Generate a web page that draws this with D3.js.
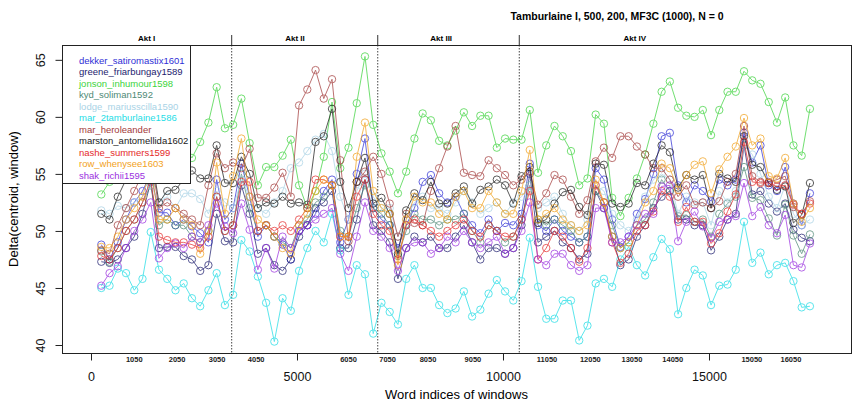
<!DOCTYPE html>
<html>
<head>
<meta charset="utf-8">
<script src="https://cdn.jsdelivr.net/npm/d3@7"></script>
<style>
  body { margin: 0; background: #fff; }
  svg { display: block; font-family: "Liberation Sans", Arial, sans-serif; }
</style>
</head>
<body>
<svg id="chart" width="852" height="412"></svg>
<script>
// window centres: 500-word windows, step 200
const windowStart = 250;
const windowStep = 200;

const seriesNames = [
  "dekker_satiromastix1601", "greene_friarbungay1589", "jonson_inhumour1598",
  "kyd_soliman1592", "lodge_mariusscilla1590", "mar_2tamburlaine1586",
  "mar_heroleander", "marston_antomellida1602", "nashe_summers1599",
  "row_whenysee1603", "shak_richii1595"
];
const seriesColors = [
  "#2f2fd6", "#1c1c6e", "#3cd43c", "#4f8a76", "#a9d3e6", "#1edde6",
  "#a33a3a", "#1a1a1a", "#e52a2a", "#f2a21c", "#9b30e0"
];

const dekker = [48.8,47.5,49.0,51.0,52.5,53.5,55.0,51.6,51.6,50.5, 51.0,50.4,49.8,49.0,54.5,51.0,52.0,55.9,53.0,49.5,
  50.5,49.5,48.8,47.5,50.0,50.5,51.5,53.5,54.5,49.0, 51.0,55.0,58.1,52.0,51.0,50.5,48.5,50.5,52.0,54.3,
  54.9,53.3,52.5,53.0,51.5,50.5,49.8,51.0,50.0,50.7, 50.5,51.5,55.9,50.5,50.0,51.0,50.0,49.5,49.0,49.5,
  55.5,54.5,51.0,48.6,49.5,51.5,52.8,55.0,58.3,58.6, 54.0,52.5,54.0,53.5,52.6,54.5,54.0,54.5,58.6,56.0,
  57.5,54.0,53.5,55.6,52.4,50.5,53.3];
const greene = [47.3,47.2,47.5,48.5,49.5,51.5,54.3,48.5,48.6,48.6, 47.8,47.5,46.5,47.0,51.5,49.1,49.0,54.0,51.5,48.0,
  48.5,47.0,46.5,47.5,49.5,50.5,52.0,52.5,53.5,48.5, 48.5,51.0,54.5,50.5,50.0,49.0,45.8,48.5,49.5,49.0,
  49.5,48.5,48.5,49.5,50.5,49.0,47.5,48.5,48.5,48.0, 48.5,50.5,55.0,49.0,49.5,50.0,49.0,48.5,47.5,48.0,
  53.5,52.0,49.5,47.0,47.5,49.5,50.5,52.0,53.0,53.5, 51.0,51.0,50.5,50.5,48.3,49.5,51.0,51.5,57.5,53.2,
  53.5,52.4,51.7,52.4,50.1,49.4,49.1];
const jonson = [53.2,54.3,56.0,57.5,58.0,59.0,60.0,58.5,59.0,58.0, 57.5,56.4,57.8,59.5,62.6,59.0,59.3,61.6,57.7,54.0,
  55.6,55.6,56.6,58.0,54.0,52.0,53.5,56.5,61.3,55.5, 57.3,61.2,65.3,59.3,56.8,55.2,53.3,55.2,58.1,60.3,
  59.7,57.9,57.5,58.8,60.4,59.2,60.1,60.1,57.3,58.1, 58.0,58.0,60.6,55.1,57.5,59.2,58.3,57.0,54.0,54.6,
  60.2,59.4,52.9,51.3,52.9,54.6,56.7,59.4,62.2,63.1, 60.8,60.1,60.0,60.6,58.4,60.6,62.2,62.2,64.0,63.2,
  62.9,61.3,59.5,61.7,57.5,56.6,60.7];
const kyd = [48.2,47.3,48.5,50.0,51.0,52.5,54.0,50.5,51.0,50.5, 50.5,49.5,49.0,50.0,53.0,50.0,50.5,55.0,52.0,50.0,
  50.5,49.5,49.0,48.5,50.5,51.0,52.5,53.0,54.0,50.0, 49.5,52.0,54.0,52.0,51.5,50.5,47.8,50.0,51.5,51.0,
  51.0,50.5,51.0,51.0,51.5,50.0,49.0,50.5,50.0,49.0, 49.5,51.0,54.0,51.0,50.5,51.0,50.5,50.0,49.0,49.5,
  53.5,52.5,50.5,48.5,49.0,50.5,51.0,52.5,54.5,53.5, 51.3,51.4,50.8,51.0,49.5,51.5,52.4,53.0,55.6,52.9,
  52.7,51.1,49.6,52.3,49.6,48.0,49.7];
const lodge = [51.8,51.5,52.2,52.0,52.5,53.0,54.0,52.5,53.0,52.0, 53.3,53.3,52.8,51.5,53.5,52.5,52.0,54.5,53.0,52.0,
  51.5,52.5,53.5,55.5,56.0,57.0,58.0,58.5,57.0,53.0, 51.0,53.5,55.0,53.0,52.0,52.0,49.5,51.0,52.5,53.0,
  52.0,52.0,51.5,52.5,53.5,52.5,51.5,52.0,52.5,51.5, 52.5,53.0,54.0,52.0,52.5,53.0,51.5,50.5,50.0,51.0,
  54.0,53.5,51.5,50.5,50.0,51.0,53.0,54.5,55.0,54.5, 51.5,53.0,52.5,52.5,50.5,53.5,52.5,53.5,57.5,56.7,
  55.0,53.0,52.0,54.0,51.5,50.5,51.0];
const tamburlaine2 = [45.0,45.2,46.7,46.3,44.8,45.8,49.9,46.6,45.8,44.8, 45.4,44.1,43.4,44.8,46.3,43.5,44.4,49.2,48.2,46.0,
  43.7,40.3,44.1,43.0,46.5,48.5,50.0,49.0,51.5,48.3, 44.4,47.0,46.2,41.0,43.7,42.9,41.8,45.8,47.0,45.0,
  45.0,43.5,42.8,43.2,44.7,42.5,43.1,44.5,45.7,44.7, 43.9,45.6,49.4,45.1,42.3,42.3,43.9,43.9,40.4,41.7,
  45.4,45.8,45.1,47.5,48.6,47.0,46.1,47.7,49.3,48.4, 42.7,45.0,46.6,46.1,43.5,45.2,45.3,46.6,50.8,47.2,
  48.1,46.2,47.0,47.2,45.6,43.3,43.4];
const heroleander = [48.3,48.0,50.5,52.0,53.5,55.0,56.5,52.0,52.5,52.0, 51.5,51.0,50.5,54.0,56.8,55.5,56.0,55.5,57.2,52.9,
  52.9,53.8,55.1,53.0,61.0,62.4,64.1,61.6,63.3,56.2, 49.1,54.3,55.2,56.5,55.0,52.4,49.5,51.5,50.7,50.5,
  53.5,55.5,57.4,59.2,55.1,54.9,54.8,56.2,55.5,54.9, 54.0,54.5,55.2,52.3,53.3,54.9,54.5,53.0,51.5,52.7,
  56.1,57.3,56.4,58.3,58.3,57.4,56.7,55.5,55.5,54.5, 53.0,54.0,52.3,52.5,52.0,52.6,54.3,55.0,59.2,54.8,
  54.3,54.3,54.5,54.8,52.1,51.5,52.6];
const marston = [51.5,51.0,53.0,54.5,55.5,56.0,57.0,52.5,53.5,53.6, 54.5,55.3,54.6,54.6,57.5,54.2,54.2,56.5,55.0,52.0,
  52.5,52.4,53.0,52.4,52.5,52.3,57.8,58.3,60.7,54.3, 52.0,54.3,56.4,52.4,52.9,51.5,48.0,51.8,53.3,52.7,
  54.3,52.4,52.4,53.3,53.9,52.4,53.6,53.9,54.5,54.0, 52.4,54.8,55.6,50.7,51.0,52.4,53.4,53.6,52.1,51.4,
  55.9,55.8,52.4,52.1,52.4,54.2,54.0,55.9,57.5,56.9, 53.8,54.9,54.5,54.9,52.0,55.0,54.6,54.3,58.3,55.8,
  55.6,54.2,53.6,53.9,50.7,51.4,54.2];
const nashe = [47.8,47.5,48.5,50.0,51.0,52.5,54.5,49.5,49.2,49.0, 49.0,48.8,48.5,49.5,53.0,50.0,50.5,54.3,54.3,50.0,
  50.5,50.0,50.5,50.0,51.0,52.0,54.5,54.5,54.0,49.5, 49.5,53.0,54.5,51.5,50.5,50.0,47.5,50.5,51.0,50.5,
  50.0,49.5,50.0,50.5,51.0,50.0,49.5,50.5,50.0,49.5, 49.5,51.0,53.5,47.5,48.5,50.0,49.5,48.5,47.3,48.5,
  54.0,52.5,49.0,47.2,48.0,50.0,50.5,51.7,53.5,53.0, 50.8,52.1,50.8,50.8,48.9,49.8,51.7,53.2,57.8,54.3,
  54.2,54.2,53.9,54.0,52.3,51.5,52.4];
const rowley = [48.6,48.5,49.5,51.0,52.0,53.0,55.5,51.0,51.0,52.0, 51.0,50.5,48.0,50.0,56.0,51.5,54.8,58.1,53.0,51.0,
  50.5,49.5,48.5,48.0,50.5,51.5,53.5,54.5,54.0,49.5, 49.5,56.5,59.5,53.5,52.0,51.5,47.0,51.0,53.0,52.5,
  52.5,51.5,51.0,53.0,53.5,52.0,52.0,53.5,52.5,51.5, 51.5,53.5,57.1,51.0,51.5,52.0,51.0,50.5,50.0,50.5,
  54.5,52.5,49.5,48.5,49.0,50.5,52.5,53.5,55.9,55.5, 53.6,54.9,55.8,56.1,53.3,55.4,56.5,57.4,59.9,57.5,
  58.1,54.8,54.6,56.4,52.4,50.8,52.0];
const richii = [45.2,46.3,46.9,48.5,50.0,51.0,52.5,47.6,48.5,48.9, 48.5,49.5,49.0,50.5,52.4,50.4,49.8,52.4,50.1,46.6,
  48.5,46.7,49.5,48.5,50.0,50.5,51.0,51.5,52.0,48.0, 46.5,49.5,52.5,50.0,49.5,48.5,46.5,48.5,49.0,49.0,
  48.0,48.5,49.5,49.0,50.0,49.0,48.5,49.0,49.5,48.0, 48.5,50.0,52.5,47.5,47.0,48.0,48.0,47.0,46.5,47.0,
  52.0,52.0,49.0,49.0,49.5,50.5,51.5,51.5,53.9,54.0, 49.1,50.8,51.7,50.4,49.4,50.8,51.0,51.3,54.2,51.3,
  52.1,50.5,49.8,51.4,47.0,46.8,48.9];

const seriesValues = [dekker, greene, jonson, kyd, lodge, tamburlaine2, heroleander,
  marston, nashe, rowley, richii];

const yTicks = [40, 45, 50, 55, 60, 65];
const xTicks = [0, 5000, 10000, 15000];
const windowLabels = ["1050", "2050", "3050", "4050", "6050", "7050", "8050", "9050",
  "11050", "12050", "13050", "14050", "15050", "16050"];
const windowLabelAt = [1050, 2090, 3060, 4010, 6250, 7200, 8180, 9270,
  11070, 12120, 13130, 14120, 16040, 16990];
const acts = ["Akt I", "Akt II", "Akt III", "Akt IV"];
const actLabelAt = [1350, 4950, 8500, 13200];
const actBreaks = [3415, 6960, 10395];

const titleText = "Tamburlaine I, 500, 200, MF3C (1000), N = 0";

const margin = { left: 62, right: 851, top: 45, bottom: 353 };
const svg = d3.select("#chart");

const x = d3.scaleLinear().domain([-704, 18447]).range([margin.left, margin.right]);
const y = d3.scaleLinear().domain([39.3, 66.3]).range([margin.bottom, margin.top]);

// title
svg.append("text")
  .attr("x", 617).attr("y", 20)
  .attr("text-anchor", "middle")
  .style("font-size", "10.5px").style("font-weight", "bold")
  .text(titleText);

// act dividers and labels
actBreaks.forEach((b) => {
  svg.append("line")
    .attr("x1", x(b)).attr("x2", x(b))
    .attr("y1", 35).attr("y2", margin.top)
    .attr("stroke", "#333").attr("stroke-width", 1);
  svg.append("line")
    .attr("x1", x(b)).attr("x2", x(b))
    .attr("y1", margin.top).attr("y2", margin.bottom)
    .attr("stroke", "#444").attr("stroke-width", 1)
    .attr("stroke-dasharray", "1.5,1.5");
});
acts.forEach((a, i) => {
  svg.append("text")
    .attr("x", x(actLabelAt[i])).attr("y", 41)
    .attr("text-anchor", "middle")
    .style("font-size", "8px").style("font-weight", "bold")
    .text(a);
});

// series lines + open circles
const line = d3.line()
  .x((d, i) => x(windowStart + i * windowStep))
  .y((d) => y(d));

const plot = svg.append("g");
seriesValues.forEach((vals, s) => {
  const g = plot.append("g").attr("opacity", 0.72);
  g.append("path")
    .datum(vals)
    .attr("d", line)
    .attr("fill", "none")
    .attr("stroke", seriesColors[s])
    .attr("stroke-width", 1);
  g.selectAll("circle")
    .data(vals)
    .enter()
    .append("circle")
    .attr("cx", (d, i) => x(windowStart + i * windowStep))
    .attr("cy", (d) => y(d))
    .attr("r", 3.7)
    .attr("fill", "none")
    .attr("stroke", seriesColors[s])
    .attr("stroke-width", 1);
});

// frame
svg.append("rect")
  .attr("x", margin.left + 0.5).attr("y", margin.top + 0.5)
  .attr("width", margin.right - margin.left)
  .attr("height", margin.bottom - margin.top)
  .attr("fill", "none").attr("stroke", "#222").attr("stroke-width", 1);

// y axis
const yAxis = d3.axisLeft(y).tickValues(yTicks).tickSize(7).tickPadding(3);
const gy = svg.append("g")
  .attr("transform", `translate(${margin.left + 0.5},0)`)
  .call(yAxis);
gy.select(".domain").remove();
gy.selectAll("text")
  .attr("transform", "rotate(-90)")
  .attr("x", 0).attr("y", -22)
  .attr("dy", "0.35em")
  .attr("text-anchor", "middle")
  .style("font-size", "12.5px")
  .style("font-family", "Liberation Sans, Arial, sans-serif")
  .attr("fill", "#111");
gy.selectAll(".tick line").attr("stroke", "#222");

// x axis
const xAxis = d3.axisBottom(x).tickValues(xTicks).tickSize(7).tickPadding(12).tickFormat(d3.format("d"));
const gx = svg.append("g")
  .attr("transform", `translate(0,${margin.bottom + 0.5})`)
  .call(xAxis);
gx.select(".domain").remove();
gx.selectAll("text")
  .style("font-size", "12.5px")
  .style("font-family", "Liberation Sans, Arial, sans-serif")
  .attr("fill", "#111");
gx.selectAll(".tick line").attr("stroke", "#222");

// window index labels under the axis
svg.append("g").selectAll("text")
  .data(windowLabels)
  .enter()
  .append("text")
  .attr("x", (d, i) => x(windowLabelAt[i]))
  .attr("y", 362)
  .attr("text-anchor", "middle")
  .style("font-size", "7.5px").style("font-weight", "bold")
  .attr("fill", "#222")
  .text((d) => d);

// axis titles
svg.append("text")
  .attr("x", (margin.left + margin.right) / 2).attr("y", 399)
  .attr("text-anchor", "middle")
  .style("font-size", "13px")
  .text("Word indices of windows");
svg.append("text")
  .attr("transform", `translate(18,${(margin.top + margin.bottom) / 2}) rotate(-90)`)
  .attr("text-anchor", "middle")
  .style("font-size", "13px")
  .text("Delta(centroid, window)");

// legend
const legend = svg.append("g");
legend.append("rect")
  .attr("x", margin.left + 0.5).attr("y", margin.top + 0.5)
  .attr("width", 128).attr("height", 138)
  .attr("fill", "#fff").attr("stroke", "#222").attr("stroke-width", 1);
legend.selectAll("text.item")
  .data(seriesNames)
  .enter()
  .append("text")
  .attr("class", "item")
  .attr("x", 79)
  .attr("y", (d, i) => 63.5 + i * 11.5)
  .style("font-size", "9.5px")
  .attr("fill", (d, i) => seriesColors[i])
  .text((d) => d);
</script>
</body>
</html>
